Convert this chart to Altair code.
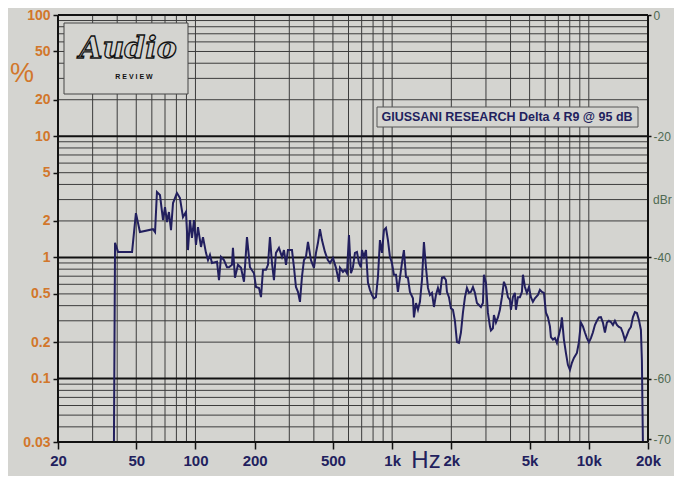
import altair as alt
import pandas as pd

# ---- data ----
freq = [38.5, 39.0, 40.4, 47.6, 49.8, 52.2, 60.8, 62.3, 63.7, 66.0,
        68.4, 70.0, 71.7, 73.3, 75.1, 76.9, 80.5, 83.4, 86.4, 89.5,
        91.6, 93.8, 96.0, 98.3, 100.6, 103, 106.7, 109.2, 113.1, 115.8,
        118.5, 121.3, 128.7, 131.7, 134.8, 139.6, 144.6, 148.1, 153.3, 155.1,
        158.8, 164.5, 170.4, 176.5, 182.8, 189.3, 198.4, 203.1, 210.4, 215.4,
        220.4, 228.3, 233.7, 239.2, 244.9, 250.7, 256.6, 265.8, 275.4, 281.8,
        288.6, 295.3, 309.6, 316.8, 324.3, 332.0, 339.9, 347.9, 356.2, 364.6,
        373.3, 386.6, 400.4, 410.0, 419.6, 429.5, 439.8, 455.4, 471, 483,
        500.1, 518, 536.6, 542.9, 562.3, 575.6, 589.3, 603.2, 617.5, 632.2,
        647.1, 662.4, 678.1, 694.1, 702.3, 719, 736.1, 753.4, 771.3, 789.6,
        808.2, 827.4, 847.1, 867.0, 887.6, 908.6, 930.3, 952.1, 974.7, 997.9,
        1021, 1046, 1070, 1096, 1122, 1148, 1176, 1203, 1232, 1276,
        1291, 1322, 1353, 1385, 1418, 1451, 1486, 1521, 1557, 1594,
        1632, 1670, 1710, 1751, 1792, 1834, 1877, 1900, 1945, 1991,
        2038, 2086, 2136, 2186, 2238, 2291, 2346, 2401, 2458, 2516,
        2576, 2636, 2699, 2763, 2828, 2895, 2929, 2999, 3069, 3143,
        3180, 3254, 3293, 3371, 3451, 3532, 3616, 3702, 3790, 3880,
        3972, 4018, 4113, 4210, 4260, 4361, 4465, 4571, 4625, 4733,
        4846, 4961, 5078, 5199, 5322, 5513, 5644, 5778, 5914, 6055,
        6198, 6344, 6419, 6572, 6726, 6886, 7049, 7215, 7298, 7473,
        7649, 7830, 8017, 8206, 8400, 8700, 8907, 9119, 9335, 9557,
        9781, 10014, 10250, 10490, 10740, 10996, 11256, 11523, 11797, 12077,
        12363, 12657, 12956, 13264, 13578, 13900, 14230, 14567, 14911, 15265,
        15627, 15996, 16376, 16764, 17160, 17568, 17984, 18408, 18620, 18840]

pct = [0.03, 1.32, 1.11, 1.11, 2.32, 1.62, 1.71, 1.62, 3.46, 3.27,
       2.03, 2.60, 1.96, 2.37, 1.68, 2.81, 3.40, 3.09, 2.15, 2.37,
       1.15, 2.03, 1.45, 2.03, 1.27, 1.78, 1.22, 1.47, 1.09, 0.95,
       1.05, 0.90, 0.92, 0.65, 1.01, 0.95, 0.83, 0.83, 0.87, 1.20,
       0.68, 0.87, 0.82, 0.63, 1.47, 0.83, 0.74, 0.57, 0.56, 0.47,
       0.79, 0.79, 0.87, 1.47, 0.90, 0.65, 1.09, 1.20, 1.01, 1.15,
       0.87, 1.15, 1.15, 0.83, 0.57, 0.52, 0.43, 0.69, 0.95, 1.01,
       1.34, 0.95, 0.82, 1.09, 1.32, 1.71, 1.39, 1.11, 0.95, 0.90,
       0.99, 0.82, 0.63, 0.82, 0.76, 0.79, 0.74, 1.53, 0.74, 0.83,
       1.09, 1.11, 0.90, 0.83, 1.15, 1.01, 1.15, 0.62, 0.54, 0.49,
       0.46, 0.47, 0.69, 1.39, 1.09, 1.68, 1.75, 1.39, 1.01, 0.90,
       0.72, 0.72, 0.52, 0.68, 0.90, 1.15, 0.69, 0.68, 0.52, 0.46,
       0.32, 0.42, 0.37, 0.43, 0.65, 1.34, 0.83, 0.56, 0.49, 0.51,
       0.39, 0.49, 0.56, 0.49, 0.68, 0.69, 0.65, 0.52, 0.47, 0.38,
       0.37, 0.30, 0.20, 0.197, 0.24, 0.35, 0.47, 0.56, 0.51, 0.52,
       0.57, 0.51, 0.42, 0.405, 0.39, 0.42, 0.72, 0.62, 0.35, 0.27,
       0.25, 0.26, 0.335, 0.29, 0.32, 0.37, 0.47, 0.63, 0.57, 0.47,
       0.445, 0.37, 0.47, 0.51, 0.37, 0.47, 0.47, 0.52, 0.72, 0.57,
       0.51, 0.57, 0.47, 0.43, 0.46, 0.49, 0.54, 0.52, 0.51, 0.35,
       0.32, 0.27, 0.22, 0.21, 0.216, 0.197, 0.23, 0.27, 0.32, 0.21,
       0.163, 0.13, 0.118, 0.135, 0.148, 0.163, 0.20, 0.29, 0.27, 0.24,
       0.216, 0.20, 0.216, 0.24, 0.277, 0.30, 0.32, 0.322, 0.29, 0.24,
       0.29, 0.30, 0.293, 0.277, 0.30, 0.277, 0.267, 0.262, 0.238, 0.208,
       0.229, 0.252, 0.267, 0.322, 0.354, 0.348, 0.304, 0.252, 0.142, 0.03]

x_ticks = [20, 50, 100, 200, 500, 1000, 2000, 5000, 10000, 20000]
y_ticks = [100, 50, 20, 10, 5, 2, 1, 0.5, 0.2, 0.1, 0.03]
dbr_ticks = [100, 10, 1, 0.1, 0.0316]

grid_x = [30, 40, 50, 60, 70, 80, 90, 100, 200, 300, 400, 500, 600, 700, 800, 900,
          1000, 2000, 3000, 4000, 5000, 6000, 7000, 8000, 9000, 10000]
grid_y_minor = [0.04, 0.05, 0.06, 0.07, 0.08, 0.09,
                0.2, 0.3, 0.4, 0.5, 0.6, 0.7, 0.8, 0.9,
                2, 3, 4, 5, 6, 7, 8, 9,
                20, 30, 40, 50, 60, 70, 80, 90]
grid_y_major = [0.1, 1, 10]
border_x = [20, 20000]
border_y = [0.03, 100]

legend_text = "GIUSSANI RESEARCH Delta 4 R9 @ 95 dB"

BG = "#d4d4d0"
NAVY = "#221f5e"
ORANGE = "#d2772b"
GREEN = "#4f6a52"
FONT = "Liberation Sans"

xs = alt.Scale(type="log", domain=[20, 20000], nice=False)
ys = alt.Scale(type="log", domain=[0.03, 100], nice=False)

x_axis = alt.Axis(
    values=x_ticks, title=None, grid=False, domain=False,
    labelExpr="datum.value >= 1000 ? (datum.value / 1000) + 'k' : '' + datum.value",
    tickColor="#111111", tickSize=7, tickWidth=1.5,
    labelFont=FONT, labelFontSize=15, labelFontWeight="bold", labelColor=NAVY,
    labelPadding=4, labelFlush=False, labelOverlap=False)


def X(field):
    return alt.X(field, scale=xs, axis=x_axis)


df = pd.DataFrame({"freq": freq, "pct": pct})

vgrid = alt.Chart(pd.DataFrame({"freq": grid_x})).mark_rule(color="#3c3c3c", strokeWidth=1).encode(
    x=X("freq:Q"))
hgrid = alt.Chart(pd.DataFrame({"p": grid_y_minor})).mark_rule(color="#3c3c3c", strokeWidth=1).encode(
    y=alt.Y("p:Q", scale=ys, axis=None))
hmajor = alt.Chart(pd.DataFrame({"p": grid_y_major})).mark_rule(color="#111111", strokeWidth=2).encode(
    y=alt.Y("p:Q", scale=ys, axis=None))
bx = alt.Chart(pd.DataFrame({"freq": border_x})).mark_rule(color="#111111", strokeWidth=2).encode(
    x=X("freq:Q"))
by = alt.Chart(pd.DataFrame({"p": border_y})).mark_rule(color="#111111", strokeWidth=2).encode(
    y=alt.Y("p:Q", scale=ys, axis=None))

one = pd.DataFrame({"t": [legend_text]})
logo_box = alt.Chart(one).mark_rect(fill=BG, stroke="#444444", strokeWidth=1).encode(
    x=alt.value(6), x2=alt.value(130), y=alt.value(8), y2=alt.value(79))
legend_box = alt.Chart(one).mark_rect(fill=BG, stroke="#555555", strokeWidth=1).encode(
    x=alt.value(319), x2=alt.value(580), y=alt.value(92), y2=alt.value(112))
legend_txt = alt.Chart(one).mark_text(font=FONT, fontSize=12.5, fontWeight="bold", color=NAVY).encode(
    x=alt.value(449), y=alt.value(102), text="t:N")

logo_txt = alt.Chart(pd.DataFrame({"t": ["Audio"]})).mark_text(
    font="DejaVu Serif", fontSize=30, fontStyle="italic", fontWeight="bold",
    fill=BG, stroke="#111111", strokeWidth=1.3).encode(
    x=alt.value(70), y=alt.value(34), text="t:N")
logo_sub = alt.Chart(pd.DataFrame({"t": ["R   E   V   I   E   W"]})).mark_text(
    font=FONT, fontSize=7, fontWeight="bold", color="#111111").encode(
    x=alt.value(76), y=alt.value(62), text="t:N")

line = alt.Chart(df).mark_line(color=NAVY, strokeWidth=2).encode(
    x=X("freq:Q"),
    y=alt.Y("pct:Q", scale=ys, axis=alt.Axis(
        values=y_ticks, title=None, grid=False, domain=False,
        labelExpr="'' + datum.value",
        tickColor="#111111", tickSize=5, tickWidth=1.5,
        labelFont=FONT, labelFontSize=14, labelFontWeight="bold", labelColor=ORANGE,
        labelPadding=3, labelFlush=False, labelOverlap=False)),
)

right_axis = alt.Chart(pd.DataFrame({"v": dbr_ticks})).mark_point(opacity=0).encode(
    y=alt.Y("v:Q", scale=ys, axis=alt.Axis(
        orient="right", values=dbr_ticks, title=None, grid=False, domain=False,
        labelExpr="datum.value > 50 ? '0' : '-' + format(40 - 20 * log(datum.value) / LN10, '.0f')",
        tickColor="#111111", tickSize=3, tickWidth=1.5,
        labelFont=FONT, labelFontSize=12, labelColor=GREEN,
        labelPadding=2, labelFlush=False, labelOverlap=False)))

pct_lbl = alt.Chart(pd.DataFrame({"t": ["%"]})).mark_text(
    font=FONT, fontSize=27, color=ORANGE).encode(x=alt.value(-36), y=alt.value(59), text="t:N")
hz_lbl = alt.Chart(pd.DataFrame({"t": ["Hz"]})).mark_text(
    font=FONT, fontSize=24, color=NAVY).encode(x=alt.value(368), y=alt.value(446), text="t:N")
dbr_lbl = alt.Chart(pd.DataFrame({"t": ["dBr"]})).mark_text(
    font=FONT, fontSize=12, color=GREEN, align="left").encode(x=alt.value(595), y=alt.value(185), text="t:N")

chart = alt.layer(
    vgrid, hgrid, hmajor, logo_box, logo_txt, logo_sub, legend_box, legend_txt,
    line, bx, by, right_axis, pct_lbl, hz_lbl, dbr_lbl
).resolve_scale(y="independent").properties(
    width=590, height=427,
    autosize="none",
    padding={"left": 50, "top": 7, "right": 26, "bottom": 34},
    background=BG,
).configure_view(stroke=None)

chart.save("out.html", embed_options={"renderer": "svg", "actions": False})
